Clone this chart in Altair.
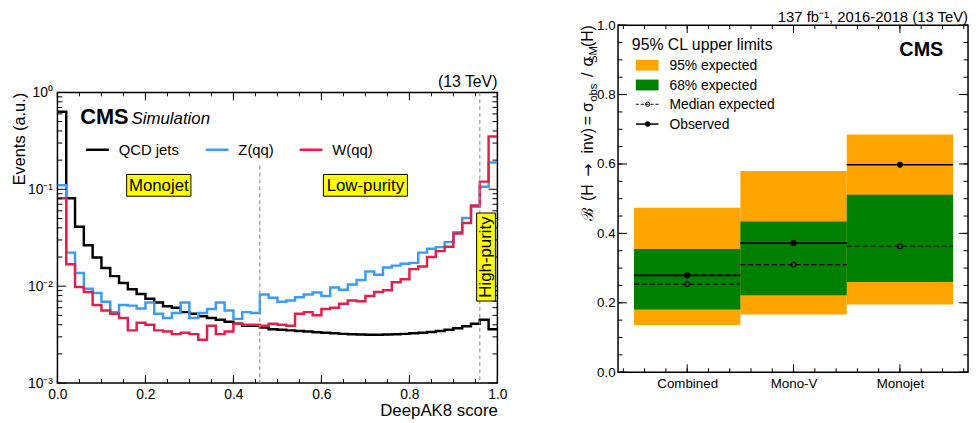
import json
import pandas as pd
import altair as alt

FONT = "Liberation Sans"

# ---------------- Left panel: DeepAK8 score distributions ----------------
n_bins = 50
score_lo = [round(i * 0.02, 2) for i in range(n_bins)]
qcd_jets = [0.63, 0.081, 0.041, 0.0264, 0.0198, 0.0154, 0.0127, 0.0108, 0.0093, 0.0083,
            0.0074, 0.0068, 0.0062, 0.0060, 0.0054, 0.0052, 0.0049, 0.0047, 0.0045, 0.0043,
            0.0041, 0.0039, 0.0039, 0.00375, 0.0036, 0.00355, 0.0035, 0.00345, 0.0034, 0.00335,
            0.0033, 0.00326, 0.00322, 0.00319, 0.00317, 0.00316, 0.00316, 0.00317, 0.00319, 0.00322,
            0.00326, 0.00331, 0.00337, 0.00344, 0.00355, 0.00368, 0.00385, 0.0041, 0.0045, 0.0036]
z_qq = [0.11, 0.0222, 0.0137, 0.0094, 0.0085, 0.0069, 0.0054, 0.0064, 0.0063, 0.0059,
        0.0068, 0.0052, 0.0047, 0.0053, 0.0068, 0.0047, 0.0053, 0.0058, 0.0068, 0.0056,
        0.0046, 0.0054, 0.0053, 0.0082, 0.0076, 0.0069, 0.0071, 0.0077, 0.0082, 0.0086,
        0.0079, 0.0097, 0.0092, 0.0104, 0.0116, 0.0142, 0.0131, 0.0156, 0.0163, 0.0170,
        0.0174, 0.0222, 0.0243, 0.0253, 0.0285, 0.036, 0.0506, 0.066, 0.106, 0.189]
w_qq = [0.081, 0.0168, 0.0098, 0.0087, 0.0064, 0.0056, 0.0052, 0.0047, 0.0035, 0.0042,
        0.0040, 0.0035, 0.0034, 0.0032, 0.0033, 0.0032, 0.0028, 0.0039, 0.0032, 0.0034,
        0.0041, 0.0040, 0.0040, 0.0039, 0.0041, 0.0040, 0.0039, 0.0052, 0.0054, 0.0050,
        0.0058, 0.0060, 0.0066, 0.0071, 0.0070, 0.0079, 0.0087, 0.0091, 0.0110, 0.0118,
        0.0150, 0.0160, 0.0200, 0.0230, 0.0255, 0.035, 0.045, 0.068, 0.120, 0.350]
sample_names = ["QCD jets", "Z(qq)", "W(qq)"]
sample_colors = ["#000000", "#3a9cf5", "#e3204a"]
region_bounds = [0.46, 0.96]
region_labels = ["Monojet", "Low-purity", "High-purity"]
score_major = [0.0, 0.2, 0.4, 0.6, 0.8, 1.0]
score_minor = [round(0.05 * i, 2) for i in range(21)]
events_major = [1e-3, 1e-2, 1e-1, 1.0]
events_minor = [k * 10.0 ** e for e in (-3, -2, -1) for k in range(2, 10)]

# ---------------- Right panel: upper limits ----------------
categories = ["Combined", "Mono-V", "Monojet"]
exp95_lo = [0.136, 0.166, 0.195]
exp95_hi = [0.474, 0.580, 0.685]
exp68_lo = [0.181, 0.222, 0.260]
exp68_hi = [0.355, 0.434, 0.511]
median_exp = [0.254, 0.310, 0.363]
observed = [0.279, 0.372, 0.598]
limit_major = [0.0, 0.2, 0.4, 0.6, 0.8, 1.0]
limit_minor = [round(0.05 * i, 2) for i in range(21)]
cat_minor = [round(-0.1 + 0.2 * i, 2) for i in range(17)]
ORANGE, GREEN = "#ffa500", "#008000"

one = pd.DataFrame({"d": [0]})


def text_layer(txt, x, y, size, align="left", baseline="alphabetic", weight="normal",
               style="normal", angle=0, opacity=1, font=FONT):
    kw = dict(text=txt, fontSize=size, align=align, baseline=baseline, fontWeight=weight,
              fontStyle=style, color="black", font=font, opacity=opacity)
    if angle:
        kw["angle"] = angle
    return alt.Chart(one).mark_text(**kw).encode(x=alt.value(x), y=alt.value(y))


def rect_layer(x, x2, y, y2, fill, stroke=None):
    kw = dict(fill=fill, opacity=1)
    if stroke:
        kw.update(stroke=stroke, strokeWidth=1)
    return alt.Chart(one).mark_rect(**kw).encode(
        x=alt.value(x), x2=alt.value(x2), y=alt.value(y), y2=alt.value(y2))


def xticks(vals, scale, axis, length, H):
    base = alt.Chart(pd.DataFrame({"v": vals})).mark_rule(color="black", strokeWidth=1)
    xe = alt.X("v:Q", scale=scale, axis=axis)
    return [base.encode(x=xe, y=alt.value(H), y2=alt.value(H - length)),
            base.encode(x=xe, y=alt.value(0), y2=alt.value(length))]


def yticks(vals, scale, axis, length, W):
    base = alt.Chart(pd.DataFrame({"v": vals})).mark_rule(color="black", strokeWidth=1)
    ye = alt.Y("v:Q", scale=scale, axis=axis)
    return [base.encode(y=ye, x=alt.value(0), x2=alt.value(length)),
            base.encode(y=ye, x=alt.value(W), x2=alt.value(W - length))]


# ================= LEFT CHART =================
W1, H1 = 445, 294
xs1 = alt.Scale(domain=[0, 1], nice=False, zero=False)
ys1 = alt.Scale(type="log", domain=[1e-3, 1], nice=False)

x_axis1 = alt.Axis(values=score_major, format=".1f", ticks=False, tickSize=0, domain=False,
                   grid=False, labelFontSize=14, labelPadding=5, labelFlush=False,
                   labelColor="black", title="DeepAK8 score", titleFontSize=17,
                   titleFontWeight="normal", titleColor="black", titleX=W1, titleY=33,
                   titleAlign="right", titleBaseline="alphabetic")
y_axis1 = alt.Axis(values=events_major,
                   labelExpr="datum.value > 0.5 ? '10⁰' : datum.value > 0.05 ? '10⁻¹' : "
                             "datum.value > 0.005 ? '10⁻²' : '10⁻³'",
                   ticks=False, tickSize=0, domain=False, grid=False, labelFontSize=14,
                   labelPadding=5, labelColor="black", title="Events (a.u.)",
                   titleFontSize=16.5, titleFontWeight="normal", titleColor="black",
                   titleX=-33, titleY=0, titleAngle=270, titleAlign="right",
                   titleBaseline="alphabetic")


def step_df(vals, name):
    return pd.DataFrame({"score": score_lo + [1.0], "events": list(vals) + [vals[-1]],
                         "sample": name})


left_layers = []
for vals, name, col in zip([qcd_jets, z_qq, w_qq], sample_names, sample_colors):
    left_layers.append(
        alt.Chart(step_df(vals, name)).mark_line(interpolate="step-after", color=col,
                                                 strokeWidth=2.5, clip=True).encode(
            x=alt.X("score:Q", scale=xs1, axis=x_axis1),
            y=alt.Y("events:Q", scale=ys1, axis=y_axis1)))

left_layers += xticks(score_minor, xs1, x_axis1, 4, H1) + xticks(score_major, xs1, x_axis1, 8, H1)
left_layers += yticks(events_minor, ys1, y_axis1, 5, W1) + yticks(events_major, ys1, y_axis1, 9, W1)

# region boundaries (dashed)
left_layers.append(alt.Chart(pd.DataFrame({"b": [region_bounds[0]]})).mark_rule(
    color="#999999", strokeDash=[4, 3], strokeWidth=1.2).encode(
    x=alt.X("b:Q", scale=xs1, axis=x_axis1), y=alt.value(74), y2=alt.value(H1)))
left_layers.append(alt.Chart(pd.DataFrame({"b": [region_bounds[1]]})).mark_rule(
    color="#999999", strokeDash=[4, 3], strokeWidth=1.2).encode(
    x=alt.X("b:Q", scale=xs1, axis=x_axis1), y=alt.value(0), y2=alt.value(H1)))

# region label boxes
left_layers += [
    rect_layer(70, 135, 83, 105, "#ffff00", "black"),
    text_layer(region_labels[0], 102.5, 94.5, 17, align="center", baseline="middle"),
    rect_layer(269, 354, 83, 105, "#ffff00", "black"),
    text_layer(region_labels[1], 311.5, 94.5, 17, align="center", baseline="middle"),
    rect_layer(424, 443, 122, 211, "#ffff00", "black"),
    text_layer(region_labels[2], 434, 166.5, 17, align="center", baseline="middle", angle=270),
]

# CMS label and legend
left_layers += [
    text_layer("CMS", 23, 32, 22, weight="bold"),
    text_layer("Simulation", 75, 32, 17, style="italic"),
    text_layer("(13 TeV)", W1, -5, 16, align="right"),
]
leg_x = [29, 150, 245]
for name, col, lx in zip(sample_names, sample_colors, leg_x):
    left_layers.append(alt.Chart(one).mark_rule(color=col, strokeWidth=2.5).encode(
        x=alt.value(lx), x2=alt.value(lx + 23), y=alt.value(58)))
    left_layers.append(text_layer(name, lx + 33, 63, 15))

left = alt.layer(*left_layers).properties(width=W1, height=H1)

# invisible spacer above the left panel (pushes it down relative to the right panel)
spacer = alt.Chart(one).mark_text(text=" ", opacity=0).encode(
    x=alt.value(0), y=alt.value(20)).properties(
    width=W1, height=49, view=alt.ViewBackground(strokeOpacity=0))

left_col = alt.vconcat(spacer, left, spacing=0)

# ================= RIGHT CHART =================
W2, H2 = 354, 351
xs2 = alt.Scale(domain=[-0.15, 3.14], nice=False, zero=False)
ys2 = alt.Scale(domain=[0, 1], nice=False, zero=False)

band = pd.DataFrame({
    "category": categories,
    "lo": [float(i) for i in range(len(categories))],
    "hi": [float(i + 1) for i in range(len(categories))],
    "mid": [i + 0.5 for i in range(len(categories))],
    "e95lo": exp95_lo, "e95hi": exp95_hi, "e68lo": exp68_lo, "e68hi": exp68_hi,
    "med": median_exp, "obs": observed,
})

x_axis2 = alt.Axis(values=[i + 0.5 for i in range(len(categories))],
                   labelExpr=json.dumps(categories) + "[floor(datum.value)]",
                   ticks=False, tickSize=0, domain=False, grid=False, labelFontSize=13.5,
                   labelPadding=4, labelFlush=False, labelColor="black", title=None)
y_axis2 = alt.Axis(values=limit_major, format=".1f", ticks=False, tickSize=0, domain=False,
                   grid=False, labelFontSize=13.5, labelPadding=3, labelColor="black",
                   title=None)

X2 = lambda f: alt.X(f, scale=xs2, axis=x_axis2)
Y2 = lambda f: alt.Y(f, scale=ys2, axis=y_axis2)

right_layers = [
    alt.Chart(band).mark_rect(color=ORANGE, opacity=1).encode(
        x=X2("lo:Q"), x2="hi:Q", y=Y2("e95lo:Q"), y2="e95hi:Q"),
    alt.Chart(band).mark_rect(color=GREEN, opacity=1).encode(
        x=X2("lo:Q"), x2="hi:Q", y=Y2("e68lo:Q"), y2="e68hi:Q"),
    alt.Chart(band).mark_rule(color="black", strokeWidth=1.2, strokeDash=[5, 3]).encode(
        x=X2("lo:Q"), x2="hi:Q", y=Y2("med:Q")),
    alt.Chart(band).mark_rule(color="black", strokeWidth=1.6).encode(
        x=X2("lo:Q"), x2="hi:Q", y=Y2("obs:Q")),
    alt.Chart(band).mark_point(shape="circle", filled=False, size=22, strokeWidth=1.1,
                               color="black", opacity=1).encode(x=X2("mid:Q"), y=Y2("med:Q")),
    alt.Chart(band).mark_point(shape="circle", filled=True, size=38, color="black",
                               opacity=1).encode(x=X2("mid:Q"), y=Y2("obs:Q")),
]
right_layers += xticks(cat_minor, xs2, x_axis2, 4, H2) + \
    xticks([i + 0.5 for i in range(3)], xs2, x_axis2, 8, H2)
right_layers += yticks(limit_minor, ys2, y_axis2, 4.5, W2) + \
    yticks(limit_major, ys2, y_axis2, 9, W2)

# legend
right_layers += [
    text_layer("95% CL upper limits", 14, 25, 16),
    rect_layer(18, 41, 35, 46, ORANGE),
    text_layer("95% expected", 52, 45.5, 14),
    rect_layer(18, 41, 55, 66, GREEN),
    text_layer("68% expected", 52, 65.5, 14),
    alt.Chart(one).mark_rule(color="black", strokeWidth=1.1, strokeDash=[3, 2]).encode(
        x=alt.value(18), x2=alt.value(41), y=alt.value(80)),
    alt.Chart(one).mark_point(shape="circle", filled=False, size=18, strokeWidth=1,
                              color="black", opacity=1).encode(x=alt.value(30), y=alt.value(80)),
    text_layer("Median expected", 52, 85, 14),
    alt.Chart(one).mark_rule(color="black", strokeWidth=1.5).encode(
        x=alt.value(18), x2=alt.value(41), y=alt.value(100)),
    alt.Chart(one).mark_point(shape="circle", filled=True, size=30, color="black",
                              opacity=1).encode(x=alt.value(30), y=alt.value(100)),
    text_layer("Observed", 52, 105.5, 14),
    text_layer("CMS", 329, 31, 20, weight="bold", align="right"),
    text_layer("137 fb⁻¹, 2016-2018 (13 TeV)", W2, -3, 15, align="right"),
]

# y-axis title "B(H -> inv) = sigma_obs / sigma_SM(H)" built from rotated pieces
# (each piece is anchored at its top end; subscripts sit closer to the axis)
ybase, ysub = -25, -21
title_pieces = [  # (text, offset from top, font size, is_subscript, font)
    ("(H)", 0, 16, False, FONT),
    ("SM", 21, 11.5, True, FONT),
    ("σ", 32, 16, False, FONT),
    ("/", 48, 16, False, FONT),
    ("obs", 59, 11.5, True, FONT),
    ("σ", 78, 16, False, FONT),
    ("=", 92, 16, False, FONT),
    ("inv)", 104, 16, False, FONT),
    ("→", 140, 16, False, "DejaVu Sans"),
    ("(H", 161, 16, False, FONT),
    ("ℬ", 185, 16, False, FONT),
]
for txt, off, fs, sub, fnt in title_pieces:
    right_layers.append(text_layer(txt, ysub if sub else ybase, off, fs, align="right",
                                   angle=270, font=fnt))

right = alt.layer(*right_layers).properties(width=W2, height=H2)

chart = alt.hconcat(left_col, right, spacing=72).properties(
    padding={"left": 3, "top": -1, "right": 0, "bottom": 0}
).configure(font=FONT).configure_view(stroke="black", strokeWidth=1.5)

chart.save("out.html", embed_options={"renderer": "svg", "actions": False})
